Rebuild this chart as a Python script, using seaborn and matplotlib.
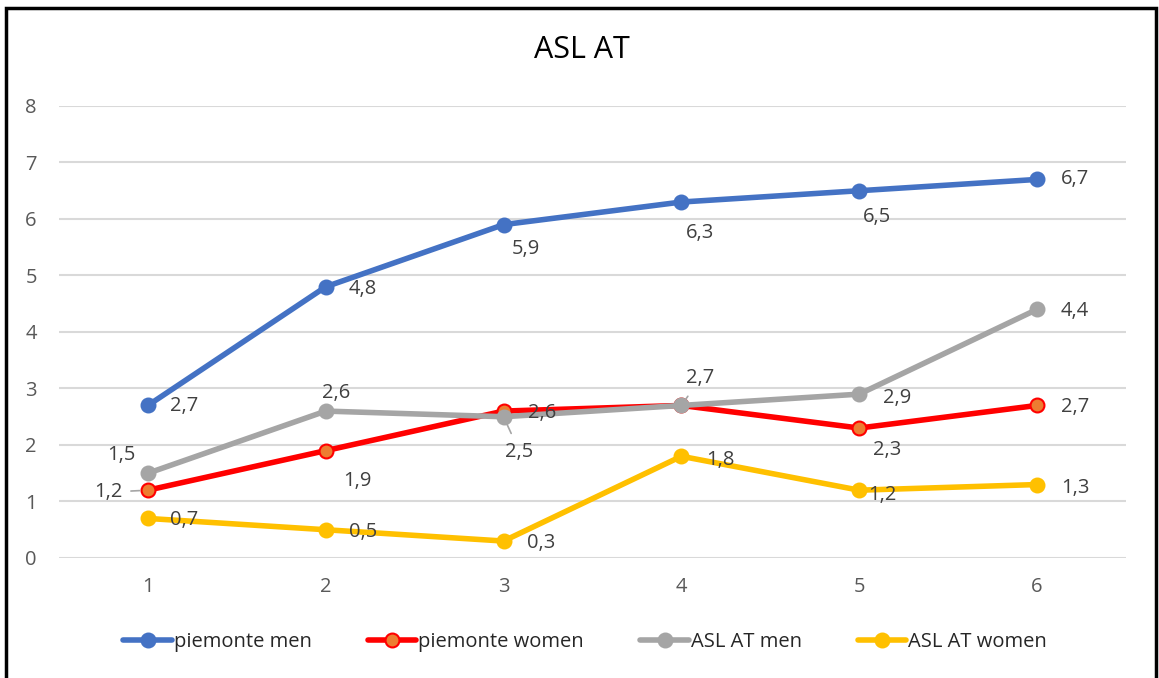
import numpy as np
import matplotlib
matplotlib.use("Agg")
import matplotlib.pyplot as plt
import seaborn as sns
import pandas as pd

# data
periods = [1, 2, 3, 4, 5, 6]
piemonte_men = [2.7, 4.8, 5.9, 6.3, 6.5, 6.7]
piemonte_women = [1.2, 1.9, 2.6, 2.7, 2.3, 2.7]
asl_at_men = [1.5, 2.6, 2.5, 2.7, 2.9, 4.4]
asl_at_women = [0.7, 0.5, 0.3, 1.8, 1.2, 1.3]
series_names = ["piemonte men", "piemonte women", "ASL AT men", "ASL AT women"]
y_ticks = [0, 1, 2, 3, 4, 5, 6, 7, 8]

# label placement (pixels, right / down), None = label hidden
label_offsets = {
    "piemonte men": [(36, 1), (37, 2), (22, 24), (19, 31), (18, 26), (38, 0)],
    "piemonte women": [(-40, 2), (32, 30), (39, 2), None, (28, 22), (38, 2)],
    "ASL AT men": [(-27, -18), (10, -18), (16, 35), (19, -27), (38, 4), (38, 2)],
    "ASL AT women": [(36, 2), (37, 2), (38, 2), (39, 4), (23, 5), (38, 3)],
}
leaders = {("piemonte women", 0), ("ASL AT men", 2), ("ASL AT men", 3)}

styles = {
    "piemonte men": dict(color="#4472C4", mfc="#4472C4", mec="#4472C4"),
    "piemonte women": dict(color="#FF0000", mfc="#ED7D31", mec="#FF0000"),
    "ASL AT men": dict(color="#A5A5A5", mfc="#A5A5A5", mec="#A5A5A5"),
    "ASL AT women": dict(color="#FFC000", mfc="#FFC000", mec="#FFC000"),
}

df = pd.DataFrame({
    "period": periods * 4,
    "value": piemonte_men + piemonte_women + asl_at_men + asl_at_women,
    "series": np.repeat(series_names, len(periods)),
})

sns.set_style("white")
plt.rcParams["font.family"] = ["Open Sans", "DejaVu Sans"]

fig = plt.figure(figsize=(11.59, 6.78), dpi=100)
ax = fig.add_axes([0.0509, 0.177, 0.9206, 0.6667])

for name in series_names:
    st = styles[name]
    sub = df[df["series"] == name]
    sns.lineplot(data=sub, x="period", y="value", ax=ax, color=st["color"],
                 linewidth=4, marker="o", markersize=10,
                 markerfacecolor=st["mfc"], markeredgecolor=st["mec"],
                 markeredgewidth=1.5, label=name, zorder=3)

for name in series_names:
    vals = df[df["series"] == name]["value"].tolist()
    for i, (x, y) in enumerate(zip(periods, vals)):
        off = label_offsets[name][i]
        if off is None:
            continue
        txt = f"{y:.1f}".replace(".", ",")
        arrow = None
        if (name, i) in leaders:
            arrow = dict(arrowstyle="-", color="#A5A5A5", lw=1.2,
                         shrinkA=4, shrinkB=6)
        ax.annotate(txt, xy=(x, y), xytext=(off[0], -off[1]),
                    textcoords="offset pixels", ha="center", va="center",
                    fontsize=14.5, color="#404040", arrowprops=arrow, zorder=4)

ax.set_xlim(0.5, 6.5)
ax.set_ylim(0, 8)
ax.set_xticks(periods)
ax.set_yticks(y_ticks)
ax.set_xlabel("")
ax.set_ylabel("")
ax.grid(axis="y", color="#D9D9D9", linewidth=1.5)
ax.grid(axis="x", visible=False)
ax.set_axisbelow(True)
for sp in ax.spines.values():
    sp.set_visible(False)
ax.tick_params(axis="both", length=0, labelsize=14.5, labelcolor="#595959")
ax.tick_params(axis="y", pad=16)
ax.tick_params(axis="x", pad=14)

fig.text(0.502, 0.926, "ASL AT", ha="center", va="center", fontsize=22,
         color="#000000")

handles, labels = ax.get_legend_handles_labels()
ax.legend_.remove()
fig.legend(handles, labels, loc="center", bbox_to_anchor=(0.505, 0.053), ncol=4,
           frameon=False, fontsize=14.5, handlelength=2.4, handletextpad=0.1,
           columnspacing=2.8, labelcolor="#262626")

# outer frame
fig.patches.append(plt.Rectangle((6 / 1159, -0.05), 1150 / 1159, 1.05 - 8 / 678,
                                 transform=fig.transFigure, fill=False,
                                 edgecolor="black", linewidth=2.5))

fig.savefig("out.png", dpi=100)
